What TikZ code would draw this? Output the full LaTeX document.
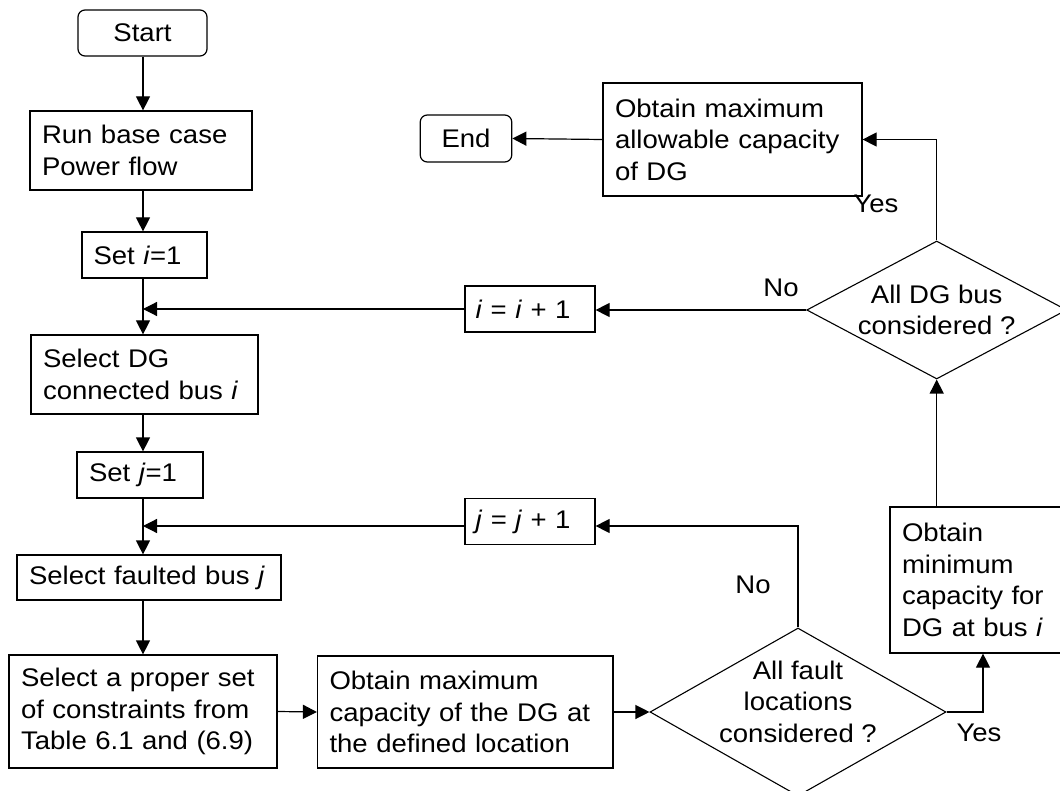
\documentclass[tikz,border=0pt]{standalone}
\usepackage{fontspec}
\setmainfont{Liberation Sans}[FakeStretch=1.08]
\usetikzlibrary{arrows.meta,shapes.geometric}
\begin{document}
\begin{tikzpicture}[x=1pt,y=-1pt,
  every node/.style={font=\fontsize{25.5}{31.5}\selectfont},
  arr/.style={-{Triangle[length=14pt,width=14pt]}, line width=1.2pt},
  proc/.style={draw, line width=1.2pt, inner xsep=12pt, inner ysep=0pt, align=left},
  term/.style={draw, line width=1.2pt, rounded corners=7pt, inner sep=0pt},
  decide/.style={draw, diamond, line width=1.1pt, inner sep=0pt, align=center},
  lbl/.style={inner sep=0pt}]

\useasboundingbox (0,0) rectangle (1060,791);
\clip (0,0) rectangle (1060,791);

% main column of the flow chart
\node[term, minimum width=129pt, minimum height=46pt] (start) at (142.5,33) {Start};
\node[proc, minimum height=79pt, text width=198pt] (run) at (141,150.5) {Run base case\\Power flow};
\node[proc, minimum height=46pt, text width=102pt, inner xsep=11.5pt] (seti) at (144.5,255) {Set \textit{i}=1};
\node[proc, minimum height=79pt, text width=203pt] (seldg) at (144.5,374.5) {Select DG\\connected bus \textit{i}};
\node[proc, minimum height=46pt, text width=102pt] (setj) at (140,475) {Set \textit{j}=1};
\node[proc, minimum height=45pt, text width=240pt] (selflt) at (149,577.5) {Select faulted bus \textit{j}};
\node[proc, minimum height=113pt, text width=244pt] (cons) at (143,711.5) {Select a proper set\\of constraints from\\Table 6.1 and (6.9)};

% bottom row and inner loop
\node[proc, minimum height=112pt, text width=271.5pt] (maxcap) at (465.25,712) {Obtain maximum\\capacity of the DG at\\the defined location};
\node[decide, minimum width=296pt, minimum height=168pt] (fdiam) at (798,712) {};
\node[lbl, align=center] (ftxt) at (798,701.5) {All fault\\locations\\considered ?};
\node[proc, minimum height=46pt, text width=109pt, inner xsep=10.5pt] (incj) at (530,521.7) {\textit{j} = \textit{j} + 1};

% right column and outer loop
\node[proc, minimum height=146pt, text width=150pt] (mincap) at (977,580) {Obtain\\minimum\\capacity for\\DG at bus \textit{i}};
\node[decide, aspect=1.88, minimum width=260pt, minimum height=138pt] (dgdiam) at (936.7,310) {All DG bus\\considered ?};
\node[proc, minimum height=46pt, text width=109pt, inner xsep=10.5pt] (inci) at (530,309) {\textit{i} = \textit{i} + 1};
\node[proc, minimum height=113pt, text width=235pt] (maxall) at (732.5,139.5) {Obtain maximum\\allowable capacity\\of DG};
\node[term, minimum width=91.5pt, minimum height=47pt] (fin) at (466,138.5) {End};

% branch labels
\node[lbl, anchor=base] (no1) at (781,297) {No};
\node[lbl, anchor=base] (yes1) at (876,213) {Yes};
\node[lbl, anchor=base] (no2) at (753,593) {No};
\node[lbl, anchor=base] (yes2) at (979,741) {Yes};

% connectors
\coordinate (col) at (143,0);
\draw[arr] (start.south -| col) -- (run.north -| col);
\draw[arr] (run.south -| col) -- (seti.north -| col);
\draw[arr] (seti.south -| col) -- (seldg.north -| col);
\draw[arr] (seldg.south -| col) -- (setj.north -| col);
\draw[arr] (setj.south -| col) -- (selflt.north -| col);
\draw[arr] (selflt.south -| col) -- (cons.north -| col);
\draw[arr] (cons.east) -- (maxcap.west);
\draw[arr] (maxcap.east) -- (fdiam.west);

\coordinate (jloop) at (798,526);
\draw[arr] (fdiam.north) -- (jloop) -- (jloop -| incj.east);
\draw[arr] (jloop -| incj.west) -- (jloop -| col);

\coordinate (yturn) at (983,712);
\draw[arr] (fdiam.east) -- (yturn) -- (yturn |- mincap.south);
\draw[arr] (mincap.north -| dgdiam.south) -- (dgdiam.south);

\draw[arr] (dgdiam.west) -- (dgdiam.west -| inci.east);
\draw[arr] (inci.west) -- (inci.west -| col);
\draw[arr] (dgdiam.north) |- (maxall.east);
\draw[arr] (maxall.west) -- (fin.east);
\end{tikzpicture}
\end{document}
